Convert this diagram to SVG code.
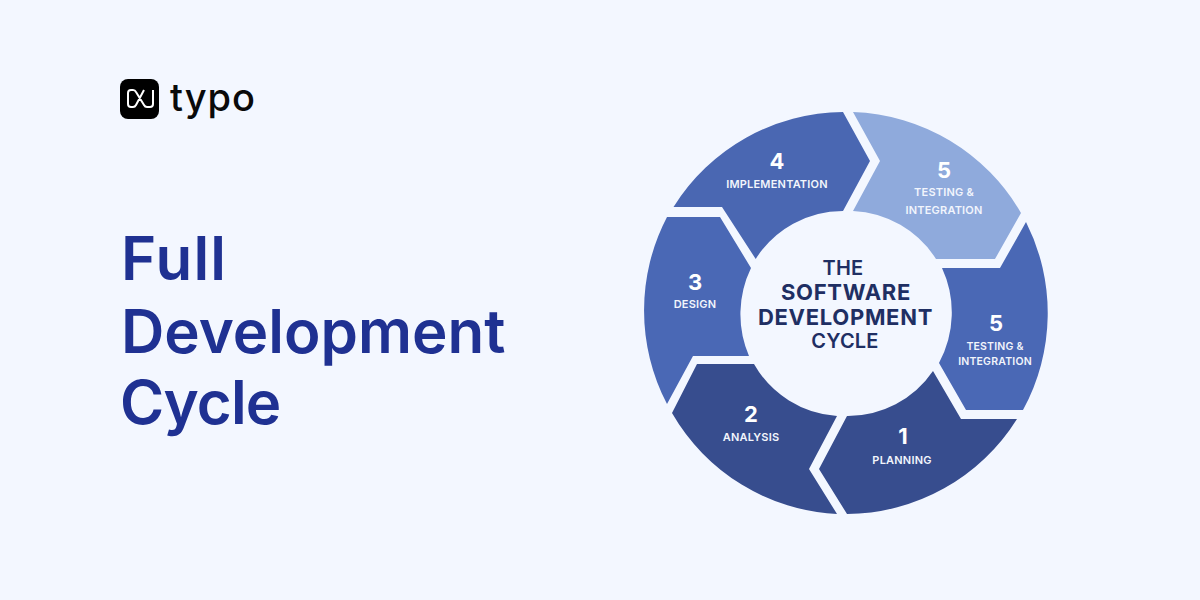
<svg xmlns="http://www.w3.org/2000/svg" width="1200" height="600" viewBox="0 0 1200 600">
<defs>
<style>
text{font-family:"Inter","Liberation Sans",sans-serif;text-anchor:middle}
.title{font-size:60px;font-weight:600;fill:#1f3192;text-anchor:start}
.num{font-size:22px;font-weight:700;fill:#fff}
.lab{font-size:11px;font-weight:600;fill:#f2f5fc;letter-spacing:.2px}
.c{fill:#1f2f63;font-size:20px;font-weight:600;letter-spacing:.2px}
.cb{fill:#1f2f63;font-size:22px;font-weight:700;letter-spacing:.7px}
</style>
</defs>
<rect width="1200" height="600" fill="#f3f7ff"/>
<g id="logo">
<rect x="120" y="79" width="39" height="40" rx="8" fill="#000"/>
<path d="M153 90V104Q153 107 150 107H147Q145 107 144 105L136 92Q135 90 133 90H131Q128 90 128 93V104Q128 107 131 107H133Q135 107 136 105L144 90" fill="none" stroke="#fff" stroke-width="2" stroke-linejoin="round"/>
<text x="170" y="111" style="font-size:38px;font-weight:500;text-anchor:start;fill:#0a0a0a;letter-spacing:1px">typo</text>
</g>
<g id="title">
<text class="title" x="121" y="280" style="letter-spacing:1.2px">Full</text>
<text class="title" x="121" y="353">Development</text>
<text class="title" x="120" y="424" style="letter-spacing:-.9px">Cycle</text>
</g>
<g id="seg-4">
<path d="M673.500 207A202 202 0 0 1 843 112L870 161L843 211A103 103 0 0 0 755.700 259L722 207Z" fill="#4a67b2"/>
<text class="num" x="777" y="169">4</text><text class="lab" x="777" y="188">IMPLEMENTATION</text>
</g>
<g id="seg-5-light">
<path d="M853 112A202 202 0 0 1 1021 213L995 259L936 259A104 104 0 0 0 853 211L880 161Z" fill="#8faadc"/>
<text class="num" x="944" y="178">5</text><text class="lab" x="944" y="196">TESTING &amp;</text><text class="lab" x="944" y="214">INTEGRATION</text>
</g>
<g id="seg-5-dark">
<path d="M1026 222A202 202 0 0 1 1023 410L966 410L939 363A106 106 0 0 0 942 268L1000 268Z" fill="#4a68b5"/>
<text class="num" x="996" y="331">5</text><text class="lab" x="995" y="350" style="font-size:10.500px">TESTING &amp;</text><text class="lab" x="995" y="365" style="font-size:10.500px">INTEGRATION</text>
</g>
<g id="seg-1">
<path d="M1017 419A202 202 0 0 1 847 514L819 469L847 416A103 103 0 0 0 933 371L961 419Z" fill="#374d8e"/>
<text class="num" x="903" y="444">1</text><text class="lab" x="902" y="464">PLANNING</text>
</g>
<g id="seg-2">
<path d="M672 413A202 202 0 0 0 837 514L809 469L837 416A103 103 0 0 1 754 364L697 364Z" fill="#374d8e"/>
<text class="num" x="751" y="422">2</text><text class="lab" x="751" y="441">ANALYSIS</text>
</g>
<g id="seg-3">
<path d="M667 217A202 202 0 0 0 667 404L693 356L749 356A106 106 0 0 1 751 268L720 217Z" fill="#4a68b5"/>
<text class="num" x="695" y="290">3</text><text class="lab" x="695" y="308">DESIGN</text>
</g>
<g id="center">
<text class="c" x="843" y="275">THE</text>
<text class="cb" x="846" y="300">SOFTWARE</text>
<text class="cb" x="845.500" y="325">DEVELOPMENT</text>
<text class="c" x="845" y="348">CYCLE</text>
</g>
<g id="connectors"/>
</svg>
